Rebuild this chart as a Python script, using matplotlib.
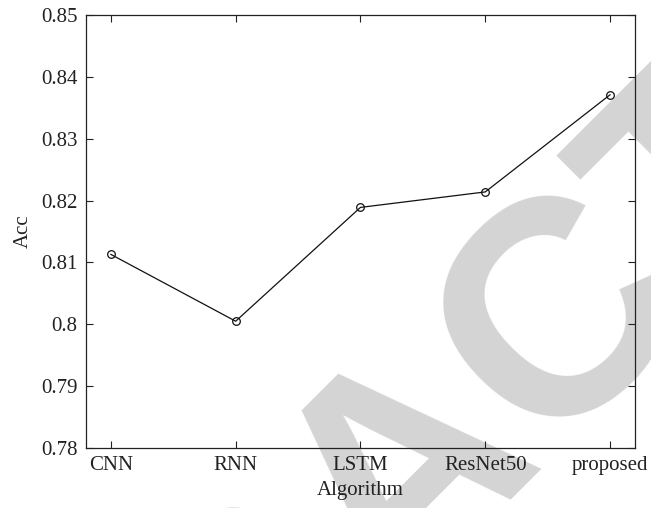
import matplotlib
matplotlib.use("Agg")
import matplotlib.pyplot as plt
from matplotlib.ticker import FuncFormatter

# values
algorithms = ["CNN", "RNN", "LSTM", "ResNet50", "proposed"]
acc = [0.8113, 0.8005, 0.8189, 0.8214, 0.8371]
yticks = [0.78, 0.79, 0.80, 0.81, 0.82, 0.83, 0.84, 0.85]

plt.rcParams['font.family'] = ['Liberation Serif', 'DejaVu Serif']

fig = plt.figure(figsize=(6.51, 5.08), dpi=100)
ax = fig.add_axes([0.132, 0.118, 0.8434, 0.8525])
ax.set_facecolor('none')

# faint "RETRACTED" stamp behind the plot
fig.text(0.628, 0.074, "RETRACTED", rotation=45, fontsize=220, color='#d4d4d4',
         fontweight='bold', family='Liberation Sans', ha='center', va='center',
         rotation_mode='anchor', zorder=-1)

x = list(range(1, len(algorithms) + 1))
ax.plot(x, acc, color='#111111', linewidth=0.9, marker='o', markersize=5.5,
        markerfacecolor='none', markeredgecolor='#111111', markeredgewidth=0.9)

ax.set_xlim(0.8, 5.2)
ax.set_ylim(0.78, 0.85)
ax.set_xticks(x)
ax.set_xticklabels(algorithms)
ax.set_yticks(yticks)
ax.yaxis.set_major_formatter(FuncFormatter(lambda v, p: f"{v:g}"))

ax.tick_params(direction='in', top=True, right=True, length=5, width=0.8,
               labelsize=15, colors='#222222', pad=6)
for s in ax.spines.values():
    s.set_linewidth(0.9)
    s.set_color('#222222')

ax.set_xlabel("Algorithm", fontsize=15, labelpad=4, color='#222222')
ax.set_ylabel("Acc", fontsize=15, labelpad=6, color='#222222')

fig.savefig("out.png", dpi=100)
